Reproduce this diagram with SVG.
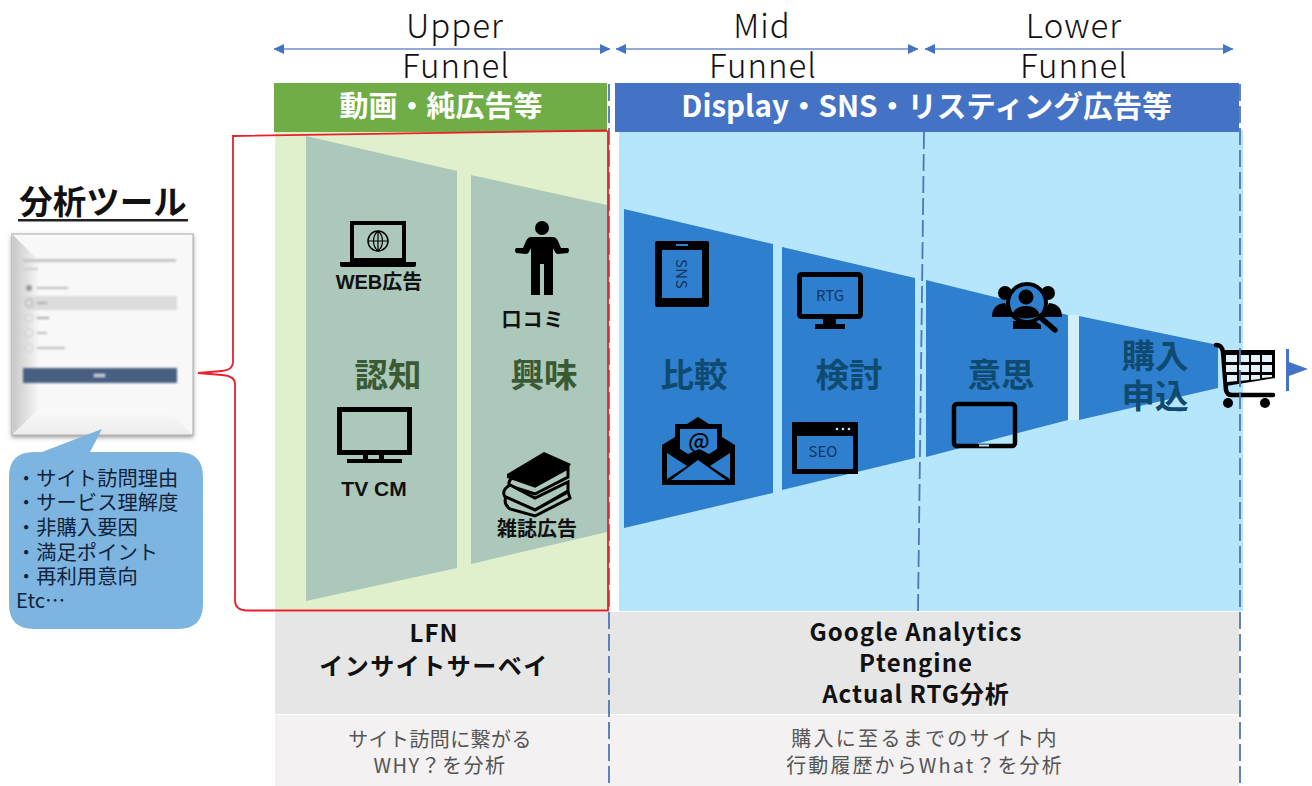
<svg xmlns="http://www.w3.org/2000/svg" width="1312" height="786" viewBox="0 0 1312 786" lang="ja" xml:lang="ja">
<style>
text{font-family:"Noto Sans CJK JP","Noto Sans",sans-serif;text-anchor:middle}
.lat{font-weight:300;font-size:33px;letter-spacing:1px;fill:#111}
.hd{font-weight:700;fill:#fff}
.st{font-weight:700;font-size:33.500px}
.g{fill:#3a5a34}
.b{fill:#0f4a70}
.lb{font-family:"Liberation Sans","Noto Sans CJK JP",sans-serif;font-weight:700;font-size:20px;fill:#111}
.tool{font-weight:700;font-size:24px;fill:#111;letter-spacing:1px}
.sub{font-size:20px;fill:#555;letter-spacing:1.5px}
.co{font-size:20.300px;fill:#10233a;text-anchor:start}
.ic{fill:#000}
.io{fill:none;stroke:#000}
.ar{stroke:#6f8fc9;stroke-width:1.6;fill:none;marker-start:url(#ah);marker-end:url(#ah)}
.da{stroke:#4f76ba;stroke-width:1.8;fill:none;stroke-dasharray:17 5}
.it{font-size:15px;fill:#0f3560}
</style>
<defs>
<marker id="ah" markerWidth="11" markerHeight="11" refX="10" refY="5.5" orient="auto-start-reverse" markerUnits="userSpaceOnUse"><path d="M0 0.5L10.500 5.500L0 10.500Z" fill="#4472c4"/></marker>
<linearGradient id="cardL" x1="0" x2="1" y1="0" y2="0"><stop offset="0" stop-color="#c8c8c8"/><stop offset="1" stop-color="#f9f9f9"/></linearGradient>
<linearGradient id="cardB" x1="0" x2="0" y1="0" y2="1"><stop offset="0" stop-color="#fbfbfb"/><stop offset="1" stop-color="#ececec"/></linearGradient>
<filter id="sh" x="-10%" y="-10%" width="120%" height="120%"><feDropShadow dx="0" dy="2" stdDeviation="2" flood-color="#555" flood-opacity=".6"/></filter>
<filter id="bl"><feGaussianBlur stdDeviation=".8"/></filter>
</defs>

<g id="bands">
<rect x="275" y="132" width="333" height="479" fill="#e0f0cd"/>
<rect x="619" y="130" width="624" height="481" fill="#b6e6fb"/>
<rect x="274" y="83" width="333" height="49" fill="#70ad47"/>
<rect x="615" y="83" width="624" height="49" fill="#4472c4"/>
<rect x="275" y="612" width="964" height="102" fill="#e7e6e6"/>
<rect x="275" y="715" width="964" height="71" fill="#f3f1f2"/>
</g>

<g id="funnel">
<polygon points="306,136 457,171 457,568 306,601" fill="#abc8bb"/>
<polygon points="471,175 607,205 607,532 471,564" fill="#abc8bb"/>
<polygon points="624,209 773,244 773,493 624,528" fill="#2f7fcf"/>
<polygon points="782,247 915,278 915,458 782,490" fill="#2f7fcf"/>
<polygon points="926,280 1068,315 1068,420 926,457" fill="#2f7fcf"/>
<rect x="1068" y="315" width="11" height="105" fill="#d3effa"/>
<polygon points="1079,316 1218,345 1218,388 1079,420" fill="#2f7fcf"/>
</g>

<g id="stage-labels">
<text class="st g" x="388" y="387">認知</text>
<text class="st g" x="544" y="387">興味</text>
<text class="st b" x="694" y="387">比較</text>
<text class="st b" x="849" y="387">検討</text>
<text class="st b" x="1001" y="387">意思</text>
<text class="st b" x="1155" y="368">購入</text>
<text class="st b" x="1155" y="408">申込</text>
</g>

<g id="icon-laptop">
<rect x="352" y="223" width="52" height="37" class="io" stroke-width="4"/>
<path d="M340 262H416V265Q416 267 413 267H343Q340 267 340 265Z" class="ic"/>
<circle cx="378" cy="241" r="10" class="io" stroke-width="1.5"/>
<path d="M368 241H388M378 231V251M378 231C372 236 372 246 378 251M378 231C384 236 384 246 378 251" class="io" stroke-width="1.2"/>
<text class="lb" x="379" y="289">WEB広告</text>
</g>
<g id="icon-person">
<circle cx="542" cy="228" r="7" class="ic"/>
<path d="M531 237H553Q556 237 558 241L561 248L568 248Q570 250 568 253L558 254Q556 254 555 252L553 248V295H544V264H540V295H531V248L529 252Q528 254 526 254L516 253Q514 250 516 248L523 248L526 241Q528 237 531 237Z" class="ic"/>
<text class="lb" x="533" y="327" style="letter-spacing:1px">口コミ</text>
</g>
<g id="icon-tv">
<rect x="339.500" y="409.500" width="70" height="43" class="io" stroke-width="5"/>
<path d="M363 455H368V459H379V455H384V459H402V463H347V459H363Z" class="ic"/>
<text class="lb" x="374" y="496" style="font-size:21px">TV CM</text>
</g>
<g id="icon-books">
<path d="M507 474L544 452L571 464L568 468L535 486L507 478Z" class="ic"/>
<path d="M512 478L535 486L568 468V477L535 494L510 486Q507 482 512 478Z" fill="#abc8bb" stroke="#000" stroke-width="3"/>
<path d="M510 485Q501 490 505 497L535 510L568 491V482L535 498Z" fill="#abc8bb" stroke="#000" stroke-width="3"/>
<path d="M506 497Q503 504 510 509L535 516L570 498L568 492L535 510Z" fill="#abc8bb" stroke="#000" stroke-width="3"/>
<text class="lb" x="537" y="536">雑誌広告</text>
</g>
<g id="icon-sns">
<rect x="655" y="241" width="54" height="66" rx="2" class="ic"/>
<rect x="662" y="250" width="40" height="48" fill="#2f7fcf"/>
<rect x="676" y="244" width="12" height="2" fill="#2f7fcf"/>
<text class="it" transform="translate(676,274) rotate(90)" style="letter-spacing:.5px">SNS</text>
</g>
<g id="icon-rtg">
<rect x="799.500" y="274.500" width="61" height="42" rx="2" class="io" stroke-width="5"/>
<path d="M823 318H836V324H845V329H815V324H823Z" class="ic"/>
<text class="it" x="830" y="301">RTG</text>
</g>
<g id="icon-mail">
<path d="M698 417L709 424H722V437L735 445V485H662V445L675 437V424H687Z" class="ic"/>
<path d="M680 429H717V449L709 454L699 449L688 454L680 449Z" fill="#2f7fcf"/>
<path d="M667 453L687 466L667 479ZM730 453V479L710 466ZM671 480L698 460L726 480Z" fill="#2f7fcf"/>
<text x="699" y="449" font-size="22" font-weight="500" fill="#000">@</text>
</g>
<g id="icon-seo">
<rect x="792" y="422" width="66" height="52" class="ic"/>
<rect x="797" y="436" width="56" height="33" fill="#2f7fcf"/>
<circle cx="837" cy="429" r="1.300" fill="#b6e6fb"/><circle cx="843" cy="429" r="1.300" fill="#b6e6fb"/><circle cx="849" cy="429" r="1.300" fill="#b6e6fb"/>
<text class="it" x="823" y="457">SEO</text>
</g>
<g id="icon-users">
<circle cx="1005" cy="293" r="7" class="ic"/><circle cx="1048" cy="293" r="7" class="ic"/>
<path d="M992 317Q992 304 1005 303L1012 317ZM1062 317Q1062 304 1049 303L1042 317Z" class="ic"/>
<circle cx="1027" cy="303" r="19" fill="#2f7fcf" stroke="#000" stroke-width="4"/>
<circle cx="1026" cy="297" r="7.500" class="ic"/>
<path d="M1012 315Q1015 306 1026 306Q1037 306 1040 315Q1027 322 1012 315Z" class="ic"/>
<path d="M1013 321V329H1041V325L1035 321Z" class="ic"/>
<path d="M1041 318L1055 330" class="io" stroke-width="5.500" stroke-linecap="round"/>
</g>
<g id="icon-tablet">
<rect x="954" y="404" width="61" height="42" rx="3" class="io" stroke-width="4.500"/>
<rect x="979" y="444.500" width="10" height="2" fill="#b6e6fb"/>
</g>
<g id="icon-cart">
<path d="M1216 345Q1222 345 1223 352L1226 390Q1227 395 1232 395H1273" class="io" stroke-width="4.500" stroke-linecap="round"/>
<path d="M1223 350H1275V378L1226 386Z" class="ic"/>
<g fill="#e4f3fa">
<rect x="1226" y="355" width="11" height="7"/><rect x="1239" y="355" width="10" height="7"/><rect x="1251" y="355" width="9" height="7"/><rect x="1262" y="355" width="10" height="7"/>
<rect x="1226" y="365" width="11" height="7"/><rect x="1239" y="365" width="10" height="7"/><rect x="1251" y="365" width="9" height="7"/><rect x="1262" y="365" width="10" height="7"/>
<path d="M1227 375H1237V381L1227 382ZM1239 375H1249V380L1239 381ZM1251 375H1260V379L1251 380ZM1262 375H1272V377L1262 378Z"/>
</g>
<circle cx="1228" cy="403" r="5" class="ic"/><circle cx="1265" cy="403" r="5" class="ic"/>
</g>

<g id="connectors">
<path class="ar" d="M274 49H610"/>
<path class="ar" d="M616 49H918"/>
<path class="ar" d="M925 49H1233"/>
<path class="da" d="M609 84V785"/>
<path class="da" d="M924 132L918 611"/>
<path class="da" d="M1240 84V785"/>
<path d="M607 130.500L233 136V362Q233 370 222 371L198 373L222 375Q235 376 235 384V600Q235 610 246 610.500H608V130.500" fill="none" stroke="#e8202a" stroke-width="1.800"/>
<path d="M1286 349H1289V391H1286ZM1289 362L1308 369L1289 376Z" fill="#4472c4"/>
</g>

<g id="header-upper">
<text class="lat" x="455" y="38">Upper</text>
<text class="lat" x="456" y="78">Funnel</text>
<text class="hd" x="441" y="117" font-size="29">動画・純広告等</text>
</g>
<g id="header-mid">
<text class="lat" x="762" y="38">Mid</text>
<text class="lat" x="763" y="78">Funnel</text>
<text class="hd" x="926.500" y="117" font-size="29.600">Display・SNS・リスティング広告等</text>
</g>
<g id="header-lower">
<text class="lat" x="1074" y="38">Lower</text>
<text class="lat" x="1074" y="78">Funnel</text>
</g>

<g id="tool-title">
<text x="103" y="214" font-size="33.500" font-weight="700" fill="#111">分析ツール</text>
<rect x="18" y="219" width="170" height="2.500" fill="#222"/>
</g>
<g id="tool-card">
<rect x="12" y="234" width="181" height="201" fill="#f8f8f8" stroke="#aaa" filter="url(#sh)"/>
<polygon points="13,235 40,262 40,408 13,434" fill="url(#cardL)"/>
<polygon points="13,434 40,408 165,408 192,434" fill="url(#cardB)"/>
<g filter="url(#bl)">
<rect x="23" y="259" width="153" height="3" fill="#c4c4c4"/>
<rect x="23" y="268" width="15" height="2" fill="#ccc"/>
<rect x="23" y="296" width="154" height="14" fill="#dcdcdc"/>
<circle cx="29" cy="288" r="3" fill="#999"/><rect x="37" y="287" width="31" height="2" fill="#bbb"/>
<circle cx="29" cy="303" r="4" fill="none" stroke="#aaa"/><rect x="37" y="302" width="10" height="2" fill="#aaa"/>
<circle cx="29" cy="318" r="4" fill="none" stroke="#ccc"/><rect x="37" y="317" width="12" height="2" fill="#aaa"/>
<circle cx="29" cy="333" r="4" fill="none" stroke="#ccc"/><rect x="37" y="332" width="10" height="2" fill="#bbb"/>
<circle cx="29" cy="348" r="4" fill="none" stroke="#ccc"/><rect x="37" y="347" width="28" height="2" fill="#bbb"/>
<rect x="23" y="368" width="154" height="15" fill="#4a5f82"/>
<rect x="94" y="374" width="11" height="3" fill="#c6cedb"/>
</g>
</g>
<g id="tool-callout">
<path d="M34 452H42L102 429L90 452H178Q203 452 203 477V604Q203 629 178 629H34Q9 629 9 604V477Q9 452 34 452Z" fill="#7db5e0"/>
<text class="co" x="16" y="486">・サイト訪問理由</text>
<text class="co" x="16" y="510">・サービス理解度</text>
<text class="co" x="16" y="535">・非購入要因</text>
<text class="co" x="16" y="560">・満足ポイント</text>
<text class="co" x="16" y="584">・再利用意向</text>
<text class="co" x="16" y="608">Etc…</text>
</g>

<g id="footer-left">
<text class="tool" x="434" y="642">LFN</text>
<text class="tool" x="434" y="675" style="letter-spacing:1.500px">インサイトサーベイ</text>
<text class="sub" x="440" y="747" style="letter-spacing:.4px">サイト訪問に繋がる</text>
<text class="sub" x="440" y="773">WHY？を分析</text>
</g>
<g id="footer-right">
<text class="tool" x="916" y="641">Google Analytics</text>
<text class="tool" x="916" y="672">Ptengine</text>
<text class="tool" x="916" y="703">Actual RTG分析</text>
<text class="sub" x="925" y="746" style="letter-spacing:2.300px">購入に至るまでのサイト内</text>
<text class="sub" x="925" y="773" style="letter-spacing:2.100px">行動履歴からWhat？を分析</text>
</g>
</svg>
